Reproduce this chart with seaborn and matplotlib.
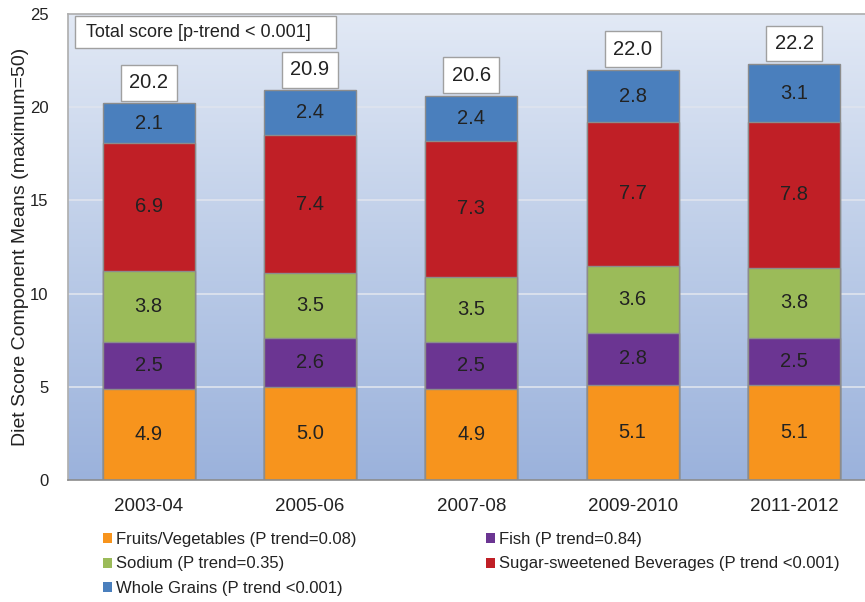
import numpy as np
import pandas as pd
import matplotlib
matplotlib.use("Agg")
import matplotlib.pyplot as plt
from matplotlib.colors import LinearSegmentedColormap
from matplotlib.patches import Patch, Rectangle
import seaborn as sns

# Data
periods = ["2003-04", "2005-06", "2007-08", "2009-2010", "2011-2012"]
fruits_veg = [4.9, 5.0, 4.9, 5.1, 5.1]
fish = [2.5, 2.6, 2.5, 2.8, 2.5]
sodium = [3.8, 3.5, 3.5, 3.6, 3.8]
ssb = [6.9, 7.4, 7.3, 7.7, 7.8]
whole_grains = [2.1, 2.4, 2.4, 2.8, 3.1]
totals = [20.2, 20.9, 20.6, 22.0, 22.2]

series_names = [
    "Fruits/Vegetables (P trend=0.08)",
    "Fish (P trend=0.84)",
    "Sodium (P trend=0.35)",
    "Sugar-sweetened Beverages (P trend <0.001)",
    "Whole Grains (P trend <0.001)",
]
series_colors = ["#f7941d", "#6b3592", "#9bbb59", "#c01f26", "#4a7fbd"]

sns.set_theme(style="white")
plt.rcParams["font.family"] = ["Liberation Sans", "DejaVu Sans"]
txt_color = "#222222"

df = pd.DataFrame({
    "period": periods,
    "fv": fruits_veg,
    "fish": fish,
    "sodium": sodium,
    "ssb": ssb,
    "wg": whole_grains,
})
cols = ["fv", "fish", "sodium", "ssb", "wg"]
cum = df[cols].cumsum(axis=1)

fig = plt.figure(figsize=(8.65, 6.02), dpi=100)
ax = fig.add_axes([0.0786, 0.2027, 0.9214, 0.774])

# gradient background
grad = LinearSegmentedColormap.from_list("bg", ["#9bb2dc", "#bdcde8", "#e2e9f5"])
ax.imshow(np.linspace(0, 1, 256).reshape(-1, 1), cmap=grad, origin="lower",
          extent=[-0.5, 4.44, 0, 25], aspect="auto", zorder=0)

for y in [5, 10, 15, 20]:
    ax.axhline(y, color="#dfe4ee", lw=1.2, zorder=1)

# stacked bars: draw cumulative heights back to front
for col, color in reversed(list(zip(cols, series_colors))):
    sns.barplot(x=df["period"], y=cum[col], color=color, width=0.57,
                edgecolor="#8c8c8c", linewidth=1, saturation=1, ax=ax, zorder=2)

# segment labels + total boxes
for i in range(len(periods)):
    base = 0
    for col in cols:
        v = df[col].iloc[i]
        ax.text(i, base + v / 2, f"{v:.1f}", ha="center", va="center",
                fontsize=14.5, color=txt_color, zorder=5)
        base += v
    top = cum[cols[-1]].iloc[i]
    ax.text(i, top + 1.12, f"{totals[i]:.1f}", ha="center", va="center",
            fontsize=14.5, color=txt_color, zorder=5,
            bbox=dict(boxstyle="square,pad=0.42", fc="white", ec="#a0a0a0", lw=1))

# "Total score" note box
ax.add_patch(Rectangle((0.0088, 0.927), 0.3275, 0.0687, transform=ax.transAxes,
                       fc="white", ec="#a0a0a0", lw=1, zorder=5))
ax.text(0.0226, 0.9614, "Total score [p-trend < 0.001]", transform=ax.transAxes,
        ha="left", va="center", fontsize=13, color=txt_color, zorder=6)

ax.set_xlim(-0.5, 4.44)
ax.set_ylim(0, 25)
ax.set_yticks([0, 5, 10, 15, 20, 25])
ax.set_xlabel("")
ax.set_ylabel("Diet Score Component Means (maximum=50)", fontsize=14, color=txt_color)
ax.yaxis.set_label_coords(-0.049, 0.5)
ax.tick_params(axis="y", labelsize=12, colors=txt_color, length=0, pad=14)
ax.tick_params(axis="x", labelsize=13.5, colors=txt_color, length=0, pad=13)

for side in ["top", "left"]:
    ax.spines[side].set_color("#b0b0b0")
ax.spines["right"].set_visible(False)
ax.spines["bottom"].set_color("#8c8c8c")
ax.spines["bottom"].set_linewidth(1.2)

# legend below the plot (column-major fill -> reorder so rows read across)
order = [0, 2, 4, 1, 3]
handles = [Patch(facecolor=series_colors[k], edgecolor="none") for k in order]
leg = fig.legend(handles, [series_names[k] for k in order], ncol=2,
                 loc="upper left", bbox_to_anchor=(0.1015, 0.1416),
                 frameon=False, fontsize=12, handlelength=0.55, handleheight=0.55,
                 handletextpad=0.25, columnspacing=7.75, labelspacing=0.58)
for t in leg.get_texts():
    t.set_color(txt_color)

fig.savefig("out.png", dpi=100)
